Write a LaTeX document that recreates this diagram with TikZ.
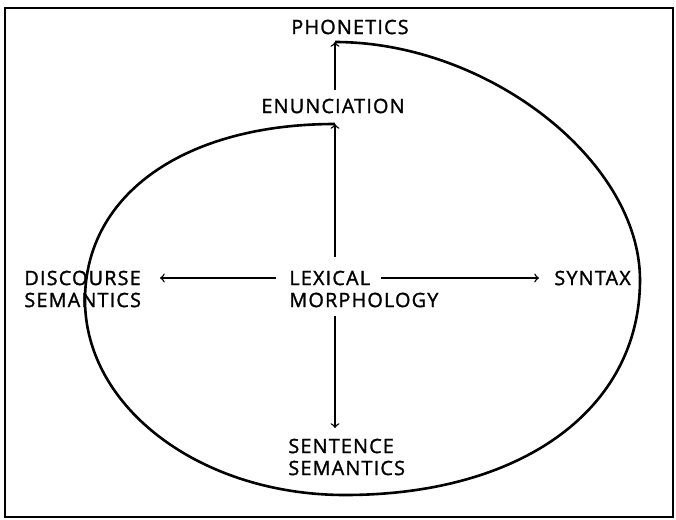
\documentclass[tikz,border=0pt]{standalone}
\usepackage{fontspec}
\setmainfont{Open Sans}[LetterSpace=6, FakeBold=1.4]
\begin{document}
\begin{tikzpicture}[x=0.5pt,y=-0.5pt,
  lbl/.style={inner sep=0pt, font=\fontsize{9.9}{11}\selectfont, align=left},
  conn/.style={->, line width=0.7pt},
  spiral/.style={line width=1.3pt},
  frame/.style={line width=0.7pt}]
\useasboundingbox (0,0) rectangle (676,520);
\draw[frame] (5,8) rectangle (673,517);
% labels
\node[lbl] (phon) at (350,27) {PHONETICS};
\node[lbl] (enun) at (333,106) {ENUNCIATION};
\node[lbl, anchor=west] (disc) at (24,289) {DISCOURSE\\SEMANTICS};
\node[lbl, anchor=west] (lex) at (289,289) {LEXICAL\\MORPHOLOGY};
\node[lbl, anchor=west] (syn) at (554,278) {SYNTAX};
\node[lbl, anchor=west] (sent) at (288,457) {SENTENCE\\SEMANTICS};
% connector ends
\coordinate (phtip) at (335,42);
\coordinate (enbase) at (335,90);
\coordinate (entip) at (335,124);
\coordinate (lexup) at (335,257);
\coordinate (lexdown) at (335,316);
\coordinate (senttip) at (335,428);
\coordinate (lexleft) at (276,278);
\coordinate (disctip) at (160,278);
\coordinate (lexright) at (381,278);
\coordinate (syntip) at (539,278);
% arrows
\draw[conn] (enbase) -- (phtip);
\draw[conn] (lexup) -- (entip);
\draw[conn] (lexdown) -- (senttip);
\draw[conn] (lexleft) -- (disctip);
\draw[conn] (lexright) -- (syntip);
% spiral
\draw[spiral] (entip)
  .. controls (185,124) and (85,194) .. (85,300)
  .. controls (85,408) and (201,495) .. (345,495)
  .. controls (522,495) and (640,409) .. (640,280)
  .. controls (640,161) and (488,42) .. (phtip);
\end{tikzpicture}
\end{document}
